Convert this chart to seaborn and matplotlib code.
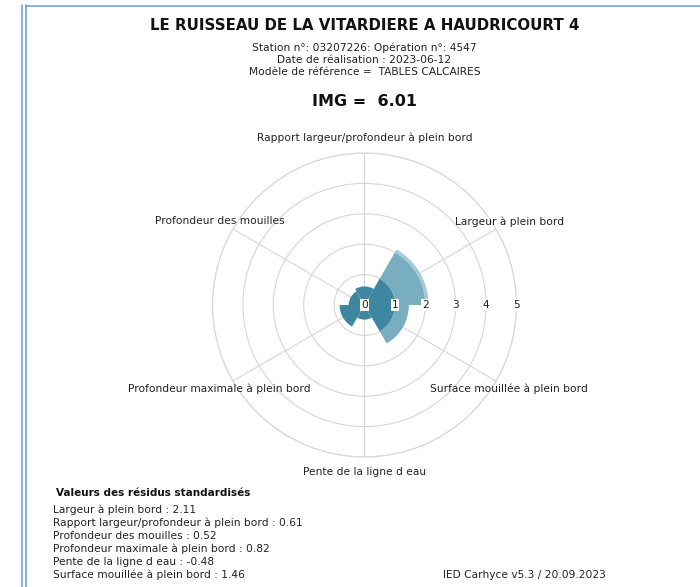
import numpy as np
import matplotlib
matplotlib.use('Agg')
import matplotlib.pyplot as plt
from matplotlib.lines import Line2D
import seaborn as sns

sns.set_style('white')
plt.rcParams['font.family'] = ['DejaVu Sans']

# Data
categories = ['Largeur à plein bord',
              'Rapport largeur/profondeur à plein bord',
              'Profondeur des mouilles',
              'Profondeur maximale à plein bord',
              'Pente de la ligne d eau',
              'Surface mouillée à plein bord']
residus = [2.11, 0.61, 0.52, 0.82, -0.48, 1.46]
angles_deg = [30, 90, 150, 210, 270, 330]
ring_ticks = [0, 1, 2, 3, 4, 5]
band_edges = [0, 1, 2, 5]
band_colors = ['#3f87a1', '#79adc0', '#a6cad8']

title = 'LE RUISSEAU DE LA VITARDIERE A HAUDRICOURT 4'
subtitle = ['Station n°: 03207226: Opération n°: 4547',
            'Date de réalisation : 2023-06-12',
            'Modèle de référence =  TABLES CALCAIRES']
img_value = 6.01

W, H = 700, 587
fig = plt.figure(figsize=(W / 100, H / 100), dpi=100)

# polar axes: centre (364.5, 305) px, radius 152 px
cx, cy, rad = 364.5, 305, 152
ax = fig.add_axes([(cx - rad) / W, (H - cy - rad) / H, 2 * rad / W, 2 * rad / H],
                  projection='polar')

theta = np.deg2rad(angles_deg)
for lo, hi, col in zip(band_edges[:-1], band_edges[1:], band_colors):
    heights = [max(0, min(abs(v), hi) - lo) for v in residus]
    ax.bar(theta, heights, width=np.pi / 3, bottom=lo, color=col,
           linewidth=0, align='center', zorder=2)

ax.set_ylim(0, 5)
ax.set_thetagrids(angles_deg, labels=[''] * len(angles_deg))
ax.set_rgrids(ring_ticks[1:], labels=[''] * len(ring_ticks[1:]))
ax.grid(True, color='#d6d6d6', linewidth=0.8)
ax.spines['polar'].set_color('#d6d6d6')
ax.spines['polar'].set_linewidth(0.8)
ax.set_facecolor('white')

small = 7.7
for r in ring_ticks:
    ax.text(0, r, str(r), ha='center', va='center', fontsize=small, color='#222222',
            bbox=dict(fc='white', ec='none', pad=0.5), zorder=5)

for t, cat in zip(theta, categories):
    ax.text(t, 5.5, cat, ha='center', va='center', fontsize=small, color='#222222')

# header texts
def fy(py):
    return 1 - py / H

fig.text(cx / W, fy(25), title, ha='center', va='center', fontsize=10.8,
         fontweight='bold', color='#111111')
for i, line in enumerate(subtitle):
    fig.text(cx / W, fy(48 + 11.8 * i), line, ha='center', va='center',
             fontsize=small, color='#222222')
fig.text(cx / W, fy(101), f'IMG =  {img_value:.2f}', ha='center', va='center',
         fontsize=11.5, fontweight='bold', color='#111111')

# residual list
fig.text(56 / W, fy(493), 'Valeurs des résidus standardisés', ha='left', va='center',
         fontsize=7.5, fontweight='bold', color='#111111')
for i, (cat, v) in enumerate(zip(categories, residus)):
    fig.text(53 / W, fy(510 + 12.9 * i), f'{cat} : {v:.2f}', ha='left', va='center',
             fontsize=small, color='#222222')

fig.text(443 / W, fy(575), 'IED Carhyce v5.3 / 20.09.2023', ha='left', va='center',
         fontsize=small, color='#222222')

# frame lines
frame_col = '#6a98d6'
fig.add_artist(Line2D([22.5 / W, 22.5 / W], [0, fy(5)], color=frame_col, lw=1.1))
fig.add_artist(Line2D([26 / W, 26 / W], [0, fy(5)], color=frame_col, lw=1.1))
fig.add_artist(Line2D([26 / W, 1], [fy(5.5), fy(5.5)], color=frame_col, lw=1.1))

fig.savefig('out.png', dpi=100)
